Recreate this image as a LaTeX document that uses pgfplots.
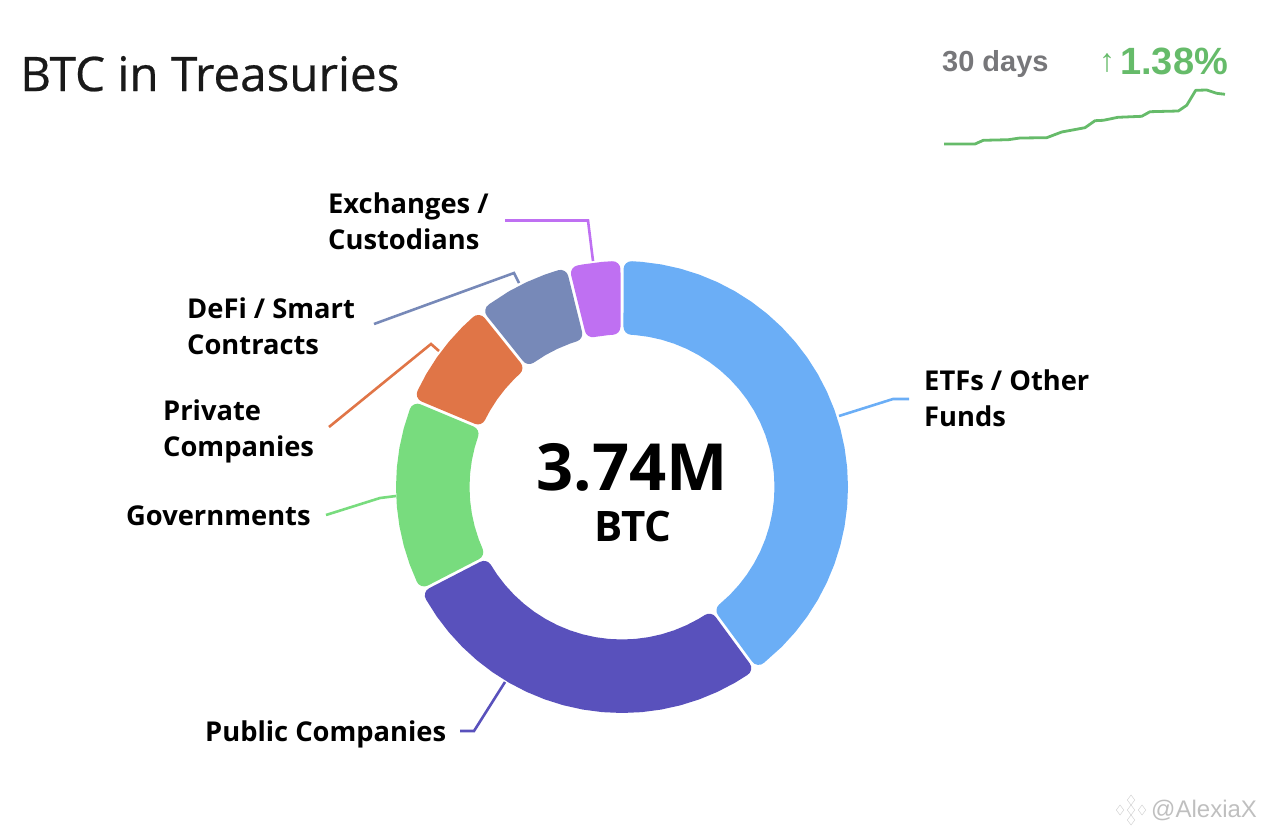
\documentclass[border=0pt]{standalone}
\usepackage{pgfplots}
\pgfplotsset{compat=1.18}
\usepgfplotslibrary{polar}
\usepackage{fontspec}
\setmainfont{Open Sans}
\newfontfamily\lib{Liberation Sans}
\newfontfamily\ttl[FakeBold=0.5]{Open Sans}
\definecolor{cBlue}{HTML}{6BAEF6}
\definecolor{cIndigo}{HTML}{5951BC}
\definecolor{cGreen}{HTML}{78DC7E}
\definecolor{cOrange}{HTML}{E07547}
\definecolor{cSlate}{HTML}{7789B8}
\definecolor{cPurple}{HTML}{BF70F2}
\definecolor{cSpark}{HTML}{66BB6A}
\definecolor{cGrey}{HTML}{77777A}
\newcommand{\lab}[1]{\fontsize{27.3}{36}\selectfont\bfseries #1}
\pgfplotsset{slice/.style={draw=#1,fill=#1,line width=16pt,line join=round,mark=none}}
\begin{document}
\begin{tikzpicture}[x=1pt,y=1pt]
\path[use as bounding box] (0,0) rectangle (1266pt,835pt);
\begin{axis}[at={(0pt,0pt)},anchor=south west,scale only axis,width=1266pt,height=835pt,
  xmin=0,xmax=1266,ymin=0,ymax=835,y dir=reverse,hide axis,clip=false]
% leader lines
\addplot[cBlue,line width=2.6pt,mark=none] coordinates {(839,416)(893,399)(909,399)};
\addplot[cPurple,line width=2.6pt,mark=none] coordinates {(505,220.5)(588,220.5)(593,261)};
\addplot[cSlate,line width=2.6pt,mark=none] coordinates {(374,324)(514,273)(519,283)};
\addplot[cOrange,line width=2.6pt,mark=none] coordinates {(329,427)(431,344)(439,351)};
\addplot[cGreen,line width=2.6pt,mark=none] coordinates {(326,515)(380,498)(396,496)};
\addplot[cIndigo,line width=2.6pt,mark=none] coordinates {(460,731)(474,731)(505,682)};
% 30-day sparkline
\addplot[cSpark,line width=2.8pt,mark=none,line join=round] coordinates {
(944,144)(975,144)(983.3,140.3)(1008.3,139.7)(1020,138)(1046.7,137.7)(1061.7,132)(1085,127.7)
(1095,120.7)(1103.3,120.3)(1118,117.3)(1141.7,116.3)(1150,111.7)(1178.3,111)(1186.7,105.3)
(1195.7,90.3)(1206.7,90)(1216.7,93.3)(1225,94.3)};
% watermark logo
\addplot[only marks,mark=diamond,mark size=5pt,draw=black!20] coordinates {(1131,800)(1120,810)(1142,810)(1131,820)(1131,810)};
% texts
\node[anchor=base west,inner sep=0pt,text=black!90] at (axis cs:20,91) {\ttl\fontsize{47.6}{52}\selectfont BTC in Treasuries};
\node[anchor=base west,inner sep=0pt,text=cGrey] at (axis cs:942,71) {\lib\fontsize{29}{34}\selectfont\bfseries 30 days};
\node[anchor=base west,inner sep=0pt,text=cSpark] at (axis cs:1099,71) {\lib\fontsize{32}{34}\selectfont ↑};
\node[anchor=base west,inner sep=0pt,text=cSpark] at (axis cs:1120,74) {\lib\fontsize{38}{42}\selectfont\bfseries 1.38\%};
\node[anchor=base west,inner sep=0pt] at (axis cs:328,213) {\lab{Exchanges /}};
\node[anchor=base west,inner sep=0pt] at (axis cs:328,249) {\lab{Custodians}};
\node[anchor=base west,inner sep=0pt] at (axis cs:187,318) {\lab{DeFi / Smart}};
\node[anchor=base west,inner sep=0pt] at (axis cs:187,354) {\lab{Contracts}};
\node[anchor=base west,inner sep=0pt] at (axis cs:163,420) {\lab{Private}};
\node[anchor=base west,inner sep=0pt] at (axis cs:163,456) {\lab{Companies}};
\node[anchor=base west,inner sep=0pt] at (axis cs:126,525) {\lab{Governments}};
\node[anchor=base west,inner sep=0pt] at (axis cs:205,741) {\lab{Public Companies}};
\node[anchor=base west,inner sep=0pt] at (axis cs:924,390) {\lab{ETFs / Other}};
\node[anchor=base west,inner sep=0pt] at (axis cs:924,426) {\lab{Funds}};
\node[anchor=base,inner sep=0pt] at (axis cs:632,490) {\fontsize{65}{72}\selectfont\bfseries 3.74M};
\node[anchor=base,inner sep=0pt] at (axis cs:633,541) {\fontsize{42}{48}\selectfont\bfseries BTC};
\node[anchor=base west,inner sep=0pt,text=black!25] at (axis cs:1151,817) {\lib\fontsize{24}{28}\selectfont @AlexiaX};
\end{axis}
\begin{polaraxis}[at={(622pt,348pt)},anchor=center,scale only axis,width=452pt,height=452pt,
  xmin=0,xmax=360,ymin=0,ymax=226,hide axis,clip=false]
% ETFs / Other Funds
\addplot[slice=cBlue] coordinates {(308.8,218)(315,218)(320,218)(325,218)(330,218)(335,218)(340,218)(345,218)(350,218)(355,218)(360,218)(365,218)(370,218)(375,218)(380,218)(385,218)(390,218)(395,218)(400,218)(405,218)(410,218)(415,218)(420,218)(425,218)(430,218)(435,218)(440,218)(445,218)(447.5,218)
(446.61,160.5)(445,160.5)(440,160.5)(435,160.5)(430,160.5)(425,160.5)(420,160.5)(415,160.5)(410,160.5)(405,160.5)(400,160.5)(395,160.5)(390,160.5)(385,160.5)(380,160.5)(375,160.5)(370,160.5)(365,160.5)(360,160.5)(355,160.5)(350,160.5)(345,160.5)(340,160.5)(335,160.5)(330,160.5)(325,160.5)(320,160.5)(315,160.5)(309.69,160.5)} -- cycle;
% Public Companies
\addplot[slice=cIndigo] coordinates {(209.8,218)(215,218)(220,218)(225,218)(230,218)(235,218)(240,218)(245,218)(250,218)(255,218)(260,218)(265,218)(270,218)(275,218)(280,218)(285,218)(290,218)(295,218)(300,218)(303.8,218)
(302.91,160.5)(300,160.5)(295,160.5)(290,160.5)(285,160.5)(280,160.5)(275,160.5)(270,160.5)(265,160.5)(260,160.5)(255,160.5)(250,160.5)(245,160.5)(240,160.5)(235,160.5)(230,160.5)(225,160.5)(220,160.5)(215,160.5)(210.69,160.5)} -- cycle;
% Governments
\addplot[slice=cGreen] coordinates {(159.8,218)(165,218)(170,218)(175,218)(180,218)(185,218)(190,218)(195,218)(200,218)(204.8,218)
(203.91,160.5)(200,160.5)(195,160.5)(190,160.5)(185,160.5)(180,160.5)(175,160.5)(170,160.5)(165,160.5)(160.69,160.5)} -- cycle;
% Private Companies
\addplot[slice=cOrange] coordinates {(131.2,218)(135,218)(140,218)(145,218)(150,218)(154.8,218)
(153.91,160.5)(150,160.5)(145,160.5)(140,160.5)(135,160.5)(132.09,160.5)} -- cycle;
% DeFi / Smart Contracts
\addplot[slice=cSlate] coordinates {(106.4,218)(110,218)(115,218)(120,218)(126.2,218)
(125.31,160.5)(120,160.5)(115,160.5)(110,160.5)(107.29,160.5)} -- cycle;
% Exchanges / Custodians
\addplot[slice=cPurple] coordinates {(92.5,218)(95,218)(100,218)(101.4,218)
(100.51,160.5)(100,160.5)(95,160.5)(93.39,160.5)} -- cycle;
\end{polaraxis}
\end{tikzpicture}
\end{document}
